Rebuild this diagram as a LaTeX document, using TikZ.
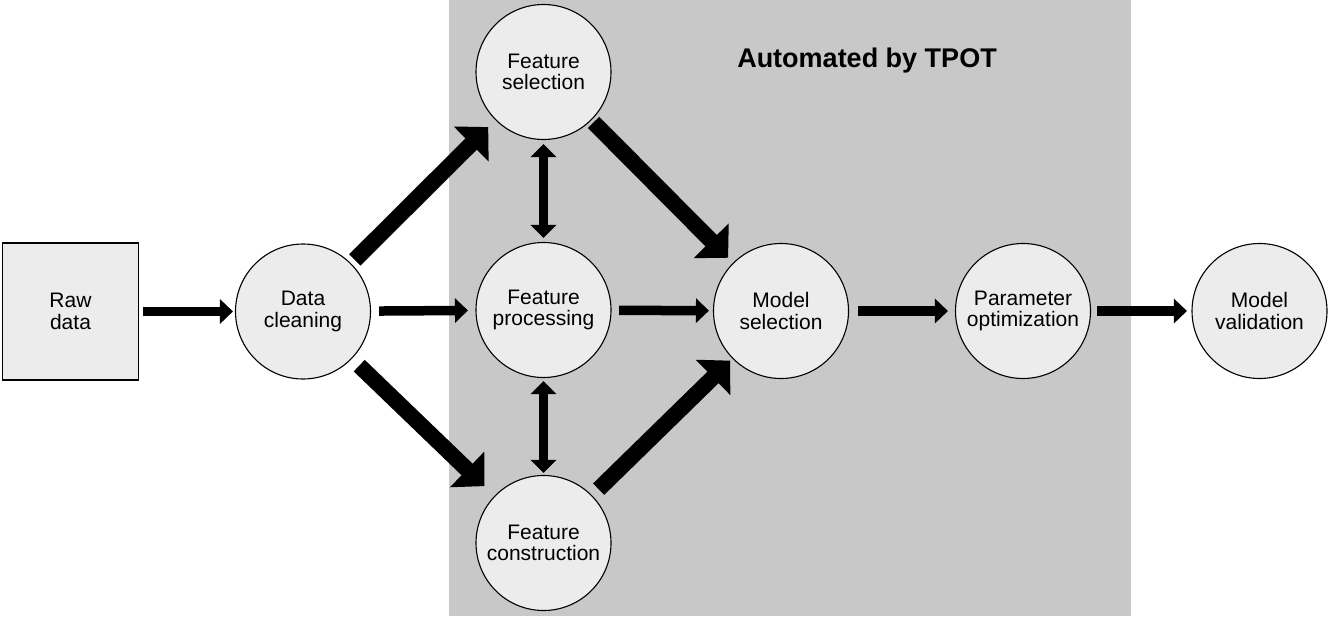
\documentclass[tikz,border=0pt]{standalone}
\usepackage{fontspec}
\setmainfont{Liberation Sans}
\usetikzlibrary{arrows.meta}
\definecolor{bggray}{RGB}{200,200,200}
\definecolor{nodefill}{RGB}{236,236,236}
\begin{document}
\begin{tikzpicture}[x=1pt,y=-1pt,
  stage/.style={circle, draw=black, line width=1.1pt, fill=nodefill, minimum size=135pt, inner sep=0pt, align=center, font=\fontsize{21}{21.5}\selectfont},
  inbox/.style={rectangle, draw=black, line width=1.1pt, fill=nodefill, minimum width=136pt, minimum height=137pt, inner sep=0pt, align=center, font=\fontsize{21}{21.5}\selectfont},
  flow/.style={line width=9.5pt, -{Triangle[length=13pt,width=24pt]}},
  bigflow/.style={line width=16pt, -{Triangle[length=24pt,width=48pt]}},
  swapflow/.style={line width=9pt, {Triangle[length=13pt,width=25pt]}-{Triangle[length=13pt,width=25pt]}},
]
\useasboundingbox (0,0) rectangle (1330,616);
\fill[bggray] (449,0) rectangle (1131,616);

\node[inbox] (raw) at (70.5,311.5) {Raw\\data};
\node[stage] (clean) at (303,311.5) {Data\\cleaning};
\node[stage] (fsel) at (543.5,72) {Feature\\selection};
\node[stage] (fproc) at (543.5,310) {Feature\\processing};
\node[stage] (fcon) at (543.5,543) {Feature\\construction};
\node[stage] (msel) at (781,311) {Model\\selection};
\node[stage] (param) at (1023,311) {Parameter\\optimization};
\node[stage] (mval) at (1259.5,311) {Model\\validation};

\node[font=\bfseries\fontsize{27}{27}\selectfont, anchor=base] (title) at (867,67) {Automated by TPOT};

\draw[flow, shorten <=4pt, shorten >=2pt] (raw) -- (clean);
\draw[flow, shorten <=8pt, shorten >=7.5pt] (clean) -- (fproc);
\draw[flow, shorten <=7.5pt, shorten >=4pt] (fproc) -- (msel);
\draw[flow, shorten <=9pt, shorten >=7pt] (msel) -- (param);
\draw[flow, shorten <=6pt, shorten >=4.5pt] (param) -- (mval);

\draw[bigflow, shorten <=5pt, shorten >=10pt] (clean) -- (fsel);
\draw[bigflow, shorten <=10pt, shorten >=14pt] (clean) -- (fcon);
\draw[bigflow, shorten <=3pt, shorten >=7pt] (fsel) -- (msel);
\draw[bigflow, shorten <=9pt, shorten >=3pt] (fcon) -- (msel);

\draw[swapflow, shorten <=4pt, shorten >=4pt] (fsel) -- (fproc);
\draw[swapflow, shorten <=3pt, shorten >=2pt] (fproc) -- (fcon);
\end{tikzpicture}
\end{document}
